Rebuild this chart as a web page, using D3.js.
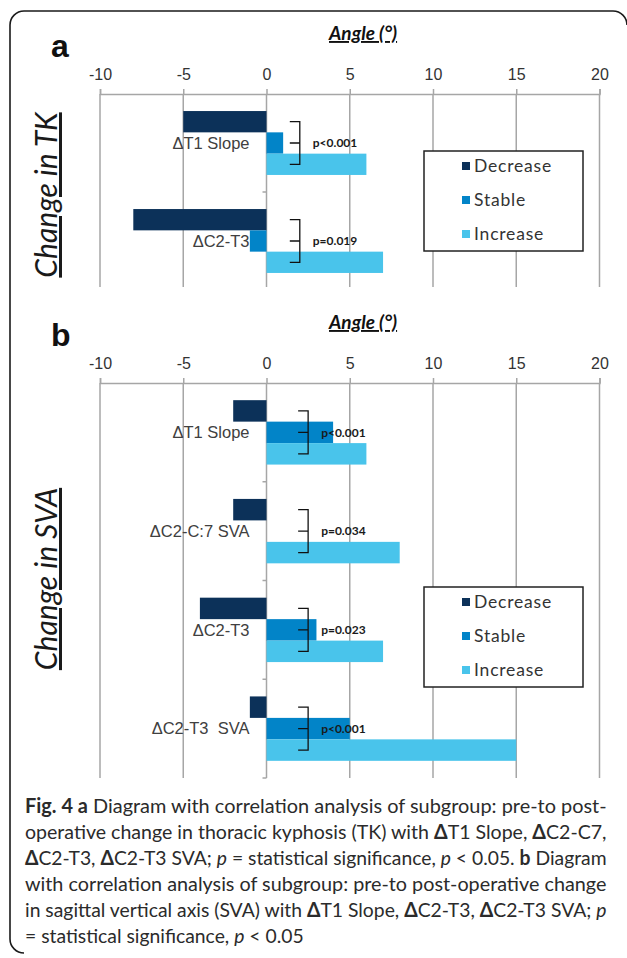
<!DOCTYPE html>
<html>
<head>
<meta charset="utf-8">
<script src="https://cdn.jsdelivr.net/npm/d3@7"></script>
<style>body{margin:0;background:#fff}</style>
</head>
<body>
<script>
// values
const tickValues = [-10, -5, 0, 5, 10, 15, 20];
const groups = ["Decrease", "Stable", "Increase"];

const tkCategories = ["ΔT1 Slope", "ΔC2-T3"];
const tkDecrease = [-5, -8];
const tkStable = [1, -1];
const tkIncrease = [6, 7];
const tkPValues = ["p<0.001", "p=0.019"];

const svaCategories = ["ΔT1 Slope", "ΔC2-C:7 SVA", "ΔC2-T3", "ΔC2-T3  SVA"];
const svaDecrease = [-2, -2, -4, -1];
const svaStable = [4, 0, 3, 5];
const svaIncrease = [6, 8, 7, 15];
const svaPValues = ["p<0.001", "p=0.034", "p=0.023", "p<0.001"];

const colors = ["#0c3159", "#0284c8", "#49c4eb"];
const gridColor = "#a6a6a6";

const width = 627, height = 958;

const x = d3.scaleLinear().domain([-10, 20]).range([100, 599.5]);
const color = d3.scaleOrdinal().domain(groups).range(colors);

const svg = d3.select("body").append("svg")
    .attr("width", width)
    .attr("height", height)
    .attr("viewBox", [0, 0, width, height]);

// outer frame (open at the bottom right like the scan)
const r = 14;
svg.append("path")
    .attr("d", `M${10 + r},953 A${r},${r} 0 0 1 10,${953 - r} V${11 + r} A${r},${r} 0 0 1 ${10 + r},11 H${627 - r} A${r},${r} 0 0 1 627,${11 + r}`)
    .attr("fill", "none")
    .attr("stroke", "#1a1a1a")
    .attr("stroke-width", 1.6);

function panel(o) {
  const y = d3.scaleBand().domain(o.categories).range([o.top, o.bottom]);
  const yy = d3.scaleBand().domain(groups).range([0, y.bandwidth()]).paddingOuter(0.8);
  const g = svg.append("g");

  // gridlines
  g.append("g").selectAll("line").data(tickValues).join("line")
      .attr("x1", d => x(d)).attr("x2", d => x(d))
      .attr("y1", o.top).attr("y2", o.gridBottom)
      .attr("stroke", gridColor).attr("stroke-width", 1.5);

  // top axis
  g.append("g")
      .attr("transform", `translate(0,${o.top})`)
      .call(d3.axisTop(x).tickValues(tickValues).tickFormat(d => String(d))
          .tickSize(5).tickSizeOuter(5).tickPadding(9))
      .call(a => a.select(".domain").attr("stroke", gridColor).attr("stroke-width", 1.5))
      .call(a => a.selectAll(".tick line").attr("stroke", gridColor).attr("stroke-width", 1.5))
      .call(a => a.selectAll(".tick text")
          .attr("font-size", 16)
          .attr("font-family", "'Liberation Sans', Arial, sans-serif")
          .attr("fill", "#333"));

  // category ticks on the zero line
  const bounds = o.categories.slice(0, -1).map(c => y(c) + y.bandwidth());
  if (o.bottomTick) bounds.push(o.bottom);
  g.append("g").selectAll("line").data(bounds).join("line")
      .attr("x1", x(0) - 4).attr("x2", x(0))
      .attr("y1", d => d).attr("y2", d => d)
      .attr("stroke", gridColor).attr("stroke-width", 1.5);

  // bars
  const series = [o.decrease, o.stable, o.increase];
  const rows = o.categories.flatMap((c, i) => groups.map((k, j) => ({c, k, v: series[j][i]})));
  g.append("g").selectAll("rect").data(rows.filter(d => d.v !== 0)).join("rect")
      .attr("x", d => x(Math.min(0, d.v)))
      .attr("width", d => Math.abs(x(d.v) - x(0)))
      .attr("y", d => y(d.c) + yy(d.k))
      .attr("height", yy.bandwidth())
      .attr("fill", d => color(d.k));

  const mid = (c, k) => y(c) + yy(k) + yy.bandwidth() / 2;

  // category labels
  g.append("g").selectAll("text").data(o.categories).join("text")
      .attr("x", x(0) - 17)
      .attr("y", c => mid(c, "Stable"))
      .attr("dy", "0.35em")
      .attr("text-anchor", "end")
      .attr("font-family", "'Liberation Sans', Arial, sans-serif")
      .attr("font-size", 16.5)
      .attr("fill", "#404040")
      .style("white-space", "pre")
      .text(c => c);

  // significance brackets
  const bx = x(o.bracketAt);
  g.append("g").selectAll("path").data(o.categories).join("path")
      .attr("d", c => `M${bx - 10},${mid(c, "Decrease")} H${bx} V${mid(c, "Increase")} H${bx - 10} M${bx - 10},${mid(c, "Stable")} H${bx}`)
      .attr("fill", "none")
      .attr("stroke", "#111")
      .attr("stroke-width", 1.3);

  g.append("g").selectAll("text").data(o.categories).join("text")
      .attr("x", bx + 13)
      .attr("y", c => mid(c, "Stable"))
      .attr("dy", "0.35em")
      .attr("font-family", "Lato, sans-serif")
      .attr("font-weight", "bold")
      .attr("font-size", 12)
      .attr("fill", "#1a1a1a")
      .text((c, i) => o.pValues[i]);

  // legend
  const lg = g.append("g").attr("transform", `translate(424,${o.legendTop})`);
  lg.append("rect")
      .attr("width", 159).attr("height", 100)
      .attr("fill", "#fff").attr("stroke", "#222").attr("stroke-width", 1.5);
  const item = lg.selectAll("g").data(groups).join("g")
      .attr("transform", (d, i) => `translate(38,${15 + i * 34})`);
  item.append("rect")
      .attr("y", -4).attr("width", 8).attr("height", 8)
      .attr("fill", d => color(d));
  item.append("text")
      .attr("x", 12)
      .attr("dy", "0.36em")
      .attr("font-family", "Lato, sans-serif")
      .attr("font-size", 17.5)
      .attr("letter-spacing", 0.8)
      .attr("fill", "#333")
      .text(d => d);

  // panel letter
  g.append("text")
      .attr("x", 51).attr("y", o.top - 37)
      .attr("font-family", "'Liberation Sans', Arial, sans-serif")
      .attr("font-weight", "bold")
      .attr("font-size", 32)
      .attr("fill", "#111")
      .text(o.letter);

  // axis title
  g.append("text")
      .attr("x", 329).attr("y", o.top - 54)
      .attr("font-family", "Lato, sans-serif")
      .attr("font-weight", "bold")
      .attr("font-style", "italic")
      .attr("font-size", 19)
      .attr("fill", "#111")
      .style("text-decoration", "underline")
      .text("Angle (°)");

  // vertical title
  g.append("text")
      .attr("transform", `translate(57,${o.titleCenter}) rotate(-90)`)
      .attr("text-anchor", "middle")
      .attr("font-family", "Lato, sans-serif")
      .attr("font-style", "italic")
      .attr("font-size", 30)
      .attr("fill", "#1a1a1a")
      .style("text-decoration", "underline")
      .text(o.title);
}

panel({
  letter: "a", title: "Change in TK",
  categories: tkCategories, decrease: tkDecrease, stable: tkStable, increase: tkIncrease,
  pValues: tkPValues, top: 94, bottom: 290, gridBottom: 287, bottomTick: false,
  bracketAt: 2, legendTop: 151, titleCenter: 195
});

panel({
  letter: "b", title: "Change in SVA",
  categories: svaCategories, decrease: svaDecrease, stable: svaStable, increase: svaIncrease,
  pValues: svaPValues, top: 383, bottom: 778, gridBottom: 778, bottomTick: true,
  bracketAt: 2.5, legendTop: 587, titleCenter: 579
});

// caption
const captionLines = [
  [["Fig. 4 a", "b"], [" Diagram with correlation analysis of subgroup: pre-to post-", ""]],
  [["operative change in thoracic kyphosis (TK) with ", ""], ["Δ", "b"], ["T1 Slope, ", ""], ["Δ", "b"], ["C2-C7,", ""]],
  [["Δ", "b"], ["C2-T3, ", ""], ["Δ", "b"], ["C2-T3 SVA; ", ""], ["p", "i"], [" = statistical significance, ", ""], ["p", "i"], [" < 0.05. ", ""], ["b", "b"], [" Diagram", ""]],
  [["with correlation analysis of subgroup: pre-to post-operative change", ""]],
  [["in sagittal vertical axis (SVA) with ", ""], ["Δ", "b"], ["T1 Slope, ", ""], ["Δ", "b"], ["C2-T3, ", ""], ["Δ", "b"], ["C2-T3 SVA; ", ""], ["p", "i"]],
  [["= statistical significance, ", ""], ["p", "i"], [" < 0.05", ""]]
];

const cap = svg.append("g");
let lastScale = 1;
captionLines.forEach((segs, i) => {
  const lineG = cap.append("g").attr("transform", `translate(25,${813 + i * 26})`);
  const t = lineG.append("text")
      .attr("font-family", "Lato, sans-serif")
      .attr("font-size", 20)
      .attr("fill", "#2b2b2b")
      .style("white-space", "pre");
  segs.forEach(([s, st]) => {
    t.append("tspan")
        .attr("font-weight", st === "b" ? "bold" : null)
        .attr("font-style", st === "i" ? "italic" : null)
        .text(s);
  });
  const w = t.node().getComputedTextLength();
  const sx = i < captionLines.length - 1 ? 582 / w : lastScale;
  lastScale = sx;
  lineG.attr("transform", `translate(25,${813 + i * 26}) scale(${sx},1)`);
});
</script>
</body>
</html>
